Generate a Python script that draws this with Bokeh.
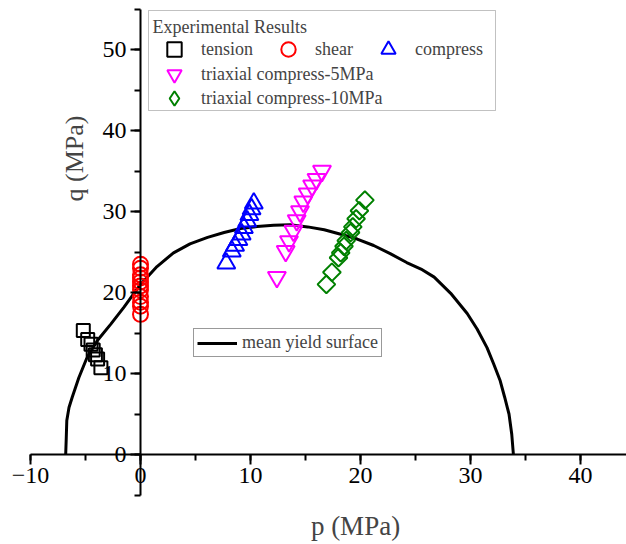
import math
from bokeh.plotting import figure
from bokeh.models import (Range1d, LinearAxis, SingleIntervalTicker, Legend,
                          LegendItem, Label, BoxAnnotation)
from bokeh.embed import file_html
from bokeh.resources import INLINE

# ---- data ----
tension_p = [-5.2, -4.8, -4.5, -4.3, -4.1, -3.9, -3.6]
tension_q = [15.3, 14.2, 13.6, 12.9, 12.3, 11.8, 10.7]

shear_p = [0, 0, 0, 0, 0, 0, 0, 0, 0, 0, 0]
shear_q = [23.5, 23.0, 22.2, 21.8, 21.3, 20.8, 20.3, 19.5, 18.8, 18.3, 17.3]

compress_p = [7.8, 8.3, 8.6, 8.9, 9.2, 9.4, 9.7, 9.9, 10.1, 10.3]
compress_q = [23.6, 25.1, 25.8, 26.5, 27.2, 28.0, 28.8, 29.6, 30.3, 31.0]

tri5_p = [12.4, 13.2, 13.5, 13.9, 14.2, 14.5, 14.8, 15.2, 15.6, 16.0, 16.5]
tri5_q = [21.9, 25.1, 26.3, 27.6, 28.9, 30.0, 31.2, 32.2, 33.2, 34.0, 35.0]

tri10_p = [20.4, 19.9, 19.6, 19.3, 19.1, 18.7, 18.5, 18.2, 18.0, 17.4, 16.9]
tri10_q = [31.4, 30.1, 29.1, 28.1, 27.4, 26.4, 25.7, 24.9, 24.3, 22.5, 21.0]

yield_p = [-6.8, -6.75, -6.7, -6.5, -6.2, -5.6, -4.85, -3.9, -2.7, -1.5, 0, 1.5,
           3.0, 4.5, 6.1, 7.6, 9.1, 10.6, 12.1, 13.6, 15.2, 16.7, 18.2, 19.7,
           21.2, 22.7, 24.2, 25.5, 26.7, 28.2, 29.7, 30.6, 31.5, 32.1, 32.7,
           33.1, 33.5, 33.75, 33.9]
yield_q = [0, 2.0, 4.2, 5.8, 7.1, 9.5, 12.0, 14.1, 16.1, 18.2, 21.0, 23.2,
           24.9, 26.0, 26.8, 27.4, 27.9, 28.15, 28.3, 28.35, 28.1, 27.75, 27.2, 26.6,
           25.8, 24.8, 23.7, 22.9, 21.9, 19.9, 17.4, 15.5, 13.2, 11.2, 9.1,
           7.1, 5.0, 2.5, 0]

x_ticks_interval = 10
y_ticks_interval = 10

FONT = "Liberation Serif"

p = figure(width=626, height=544, output_backend="svg", toolbar_location=None,
           x_range=Range1d(-140 / 11, 486 / 11), y_range=Range1d(-90 / 8.1, 454 / 8.1),
           x_axis_type=None, y_axis_type=None,
           min_border_left=0, min_border_right=0, min_border_top=0,
           min_border_bottom=0)
p.outline_line_color = None
p.background_fill_color = "white"

def style_axis(ax):
    ax.axis_line_width = 2
    ax.axis_line_color = "black"
    ax.major_tick_line_width = 2
    ax.minor_tick_line_width = 2
    ax.major_tick_out = 10
    ax.major_tick_in = 0
    ax.minor_tick_out = 6
    ax.minor_tick_in = 0
    ax.major_label_text_font = FONT
    ax.major_label_text_font_size = "24px"
    ax.major_label_text_color = "black"

xaxis = LinearAxis(ticker=SingleIntervalTicker(interval=x_ticks_interval, num_minor_ticks=2),
                   fixed_location=0, bounds=(-10, 46))
style_axis(xaxis)
xaxis.major_label_standoff = 3
p.add_layout(xaxis, "below")

yaxis = LinearAxis(ticker=SingleIntervalTicker(interval=y_ticks_interval, num_minor_ticks=2),
                   fixed_location=0, bounds=(-5, 55))
style_axis(yaxis)
yaxis.major_label_standoff = 4
p.add_layout(yaxis, "left")

r_yield = p.line(yield_p, yield_q, line_color="black", line_width=3)

r_t = p.scatter(tension_p, tension_q, marker="square", size=13, fill_color=None,
                line_color="black", line_width=2)
r_s = p.scatter(shear_p, shear_q, marker="circle", size=15, fill_color=None,
                line_color="#ff0000", line_width=2)
r_c = p.scatter(compress_p, compress_q, marker="triangle", size=18, fill_color=None,
                line_color="#0000ff", line_width=2)
r_5 = p.scatter(tri5_p, tri5_q, marker="inverted_triangle", size=18, fill_color=None,
                line_color="#ff00ff", line_width=2)
r_10 = p.scatter(tri10_p, tri10_q, marker="square", size=12.5, angle=math.pi / 4,
                 fill_color=None, line_color="#008000", line_width=2)
# legend-only key for the diamond symbol (legend glyphs are drawn unrotated)
r_10_key = p.scatter(x=[float("nan")], y=[float("nan")], marker="diamond",
                     fill_color=None, line_color="#008000", line_width=2)

# legend frame
box = BoxAnnotation(left=8 / 11, right=355 / 11, top=444 / 8.1, bottom=344 / 8.1,
                    fill_alpha=0, line_color="#333333", line_width=1)
p.add_layout(box)

common = dict(border_line_color=None, background_fill_alpha=0, padding=0,
              glyph_width=44, glyph_height=36, label_height=20, label_standoff=5,
              label_text_font=FONT, label_text_font_size="18px")

p.add_layout(Label(x=152, y=528, x_units="screen", y_units="screen",
                   text="Experimental Results", text_align="left", text_baseline="top",
                   text_font=FONT, text_font_size="18px"))

legA = Legend(items=[LegendItem(label="tension", renderers=[r_t]),
                     LegendItem(label="shear", renderers=[r_s]),
                     LegendItem(label="compress", renderers=[r_c])],
              orientation="horizontal", location=(152, 477), spacing=13, **common)
p.add_layout(legA)

legB1 = Legend(items=[LegendItem(label="triaxial compress-5MPa", renderers=[r_5])],
               location=(152, 452), **common)
p.add_layout(legB1)
legB2 = Legend(items=[LegendItem(label="triaxial compress-10MPa", renderers=[r_10_key])],
               location=(152, 428), **common)
p.add_layout(legB2)

legY = Legend(items=[LegendItem(label="mean yield surface", renderers=[r_yield])],
              location=(193, 187), border_line_color="#333333", border_line_width=1,
              background_fill_color="white", background_fill_alpha=1, padding=3,
              glyph_width=40, glyph_height=18, label_height=18, label_standoff=5,
              label_text_font=FONT, label_text_font_size="18px")
p.add_layout(legY)

p.add_layout(Label(x=355, y=19, x_units="screen", y_units="screen", text="p (MPa)",
                   text_align="center", text_baseline="middle",
                   text_font=FONT, text_font_size="27px"))
p.add_layout(Label(x=74, y=386, x_units="screen", y_units="screen", text="q (MPa)",
                   angle=math.pi / 2, text_align="center", text_baseline="middle",
                   text_font=FONT, text_font_size="26px"))

open("out.html", "w").write(file_html(p, INLINE))
